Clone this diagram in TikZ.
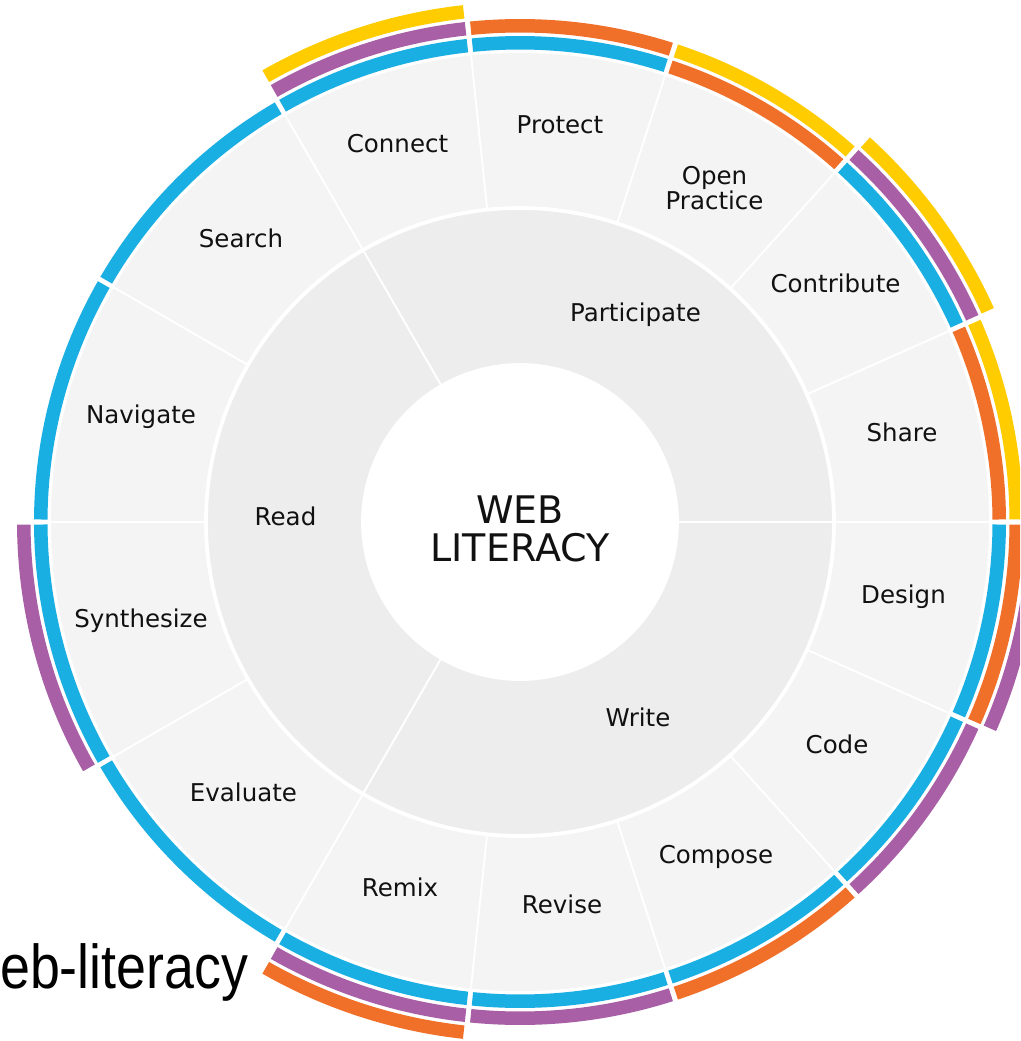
\documentclass[tikz,border=0pt]{standalone}
\usepackage{fontspec}
\setmainfont{DejaVu Sans}
\newfontfamily\arialfont{Liberation Sans}
\definecolor{ringblue}{HTML}{1AAFE3}
\definecolor{ringpurple}{HTML}{A85FA5}
\definecolor{ringorange}{HTML}{F07029}
\definecolor{ringyellow}{HTML}{FFCC00}
\definecolor{outergray}{HTML}{F4F4F4}
\definecolor{midgray}{HTML}{EDEDED}
\definecolor{labeltext}{HTML}{111111}
% annular sector: style, a1, a2, r1, r2
\newcommand\annsec[5]{\path[#1] (#2:#4pt) arc[start angle=#2,end angle=#3,radius=#4pt] -- (#3:#5pt) arc[start angle=#3,end angle=#2,radius=#5pt] -- cycle;}
% ring arc: colour, a1, a2, level
\newcommand\ringarc[4]{%
  \pgfmathsetmacro\rgin{472.5+17*(#4-1)}%
  \pgfmathsetmacro\rgout{\rgin+13.5}%
  \pgfmathsetmacro\rgA{#2+0.3}%
  \pgfmathsetmacro\rgB{#3-0.3}%
  \annsec{fill=#1}{\rgA}{\rgB}{\rgin}{\rgout}}
\tikzset{
  seglabel/.style={anchor=base,text=labeltext,font=\fontsize{24.5}{25}\selectfont,inner sep=0pt},
  outerseg/.style={fill=outergray,draw=white,line width=1.8pt},
  midseg/.style={fill=midgray,draw=white,line width=1.8pt}
}
\begin{document}
\begin{tikzpicture}[x=1pt,y=1pt]
\useasboundingbox (0,0) rectangle (1020,-1041);
\fill[white] (0,0) rectangle (1020,-1041);
\clip (0,0) rectangle (1020,-1041);
\begin{scope}[shift={(520,-522)}]
  % outer segments
  \foreach \a/\b in {0/24,24/48,48/72,72/96,96/120,120/150,150/180,180/210,210/240,240/264,264/288,288/312,312/336,336/360}
    {\annsec{outerseg}{\a}{\b}{315}{470}}
  % middle ring
  \foreach \a/\b in {0/120,120/240,240/360}
    {\annsec{midseg}{\a}{\b}{158}{313}}
  \fill[white] (0,0) circle[radius=158pt];
  % coloured rings
  \foreach \a/\b/\cols in {
      0/24/{ringorange,ringyellow},
      24/48/{ringblue,ringpurple,ringyellow},
      48/72/{ringorange,ringyellow},
      72/96/{ringblue,ringorange},
      96/120/{ringblue,ringpurple,ringyellow},
      120/150/{ringblue},
      150/180/{ringblue},
      180/210/{ringblue,ringpurple},
      210/240/{ringblue},
      240/264/{ringblue,ringpurple,ringorange},
      264/288/{ringblue,ringpurple},
      288/312/{ringblue,ringorange},
      312/336/{ringblue,ringpurple},
      336/360/{ringblue,ringorange,ringpurple}}
    {\foreach \col [count=\lv] in \cols {\ringarc{\col}{\a}{\b}{\lv}}}
\end{scope}
% centre title
\node[text=labeltext,align=center,inner sep=0pt,font=\fontsize{38}{38}\selectfont] (title) at (520,-529) {WEB\\LITERACY};
% middle ring labels
\node[seglabel] (participate) at (635.5,-321) {Participate};
\node[seglabel] (read) at (285.5,-525) {Read};
\node[seglabel] (write) at (638,-726) {Write};
% outer labels
\node[seglabel] (connect) at (397.5,-152) {Connect};
\node[seglabel] (protect) at (560,-133) {Protect};
\node[text=labeltext,align=center,inner sep=0pt,font=\fontsize{24.5}{25}\selectfont] (openpractice) at (714.5,-188) {Open\\Practice};
\node[seglabel] (contribute) at (835.5,-292) {Contribute};
\node[seglabel] (share) at (902,-441) {Share};
\node[seglabel] (design) at (903.5,-603) {Design};
\node[seglabel] (code) at (837,-753) {Code};
\node[seglabel] (compose) at (716,-863) {Compose};
\node[seglabel] (revise) at (562,-913) {Revise};
\node[seglabel] (remix) at (400,-896) {Remix};
\node[seglabel] (evaluate) at (243.5,-801) {Evaluate};
\node[seglabel] (synthesize) at (141,-627) {Synthesize};
\node[seglabel] (navigate) at (141,-423) {Navigate};
\node[seglabel] (search) at (241,-247) {Search};
% caption fragment
\node[anchor=base west,inner sep=0pt,xscale=0.867,font=\arialfont\fontsize{62}{62}\selectfont] (caption) at (0,-988) {eb-literacy};
\end{tikzpicture}
\end{document}
